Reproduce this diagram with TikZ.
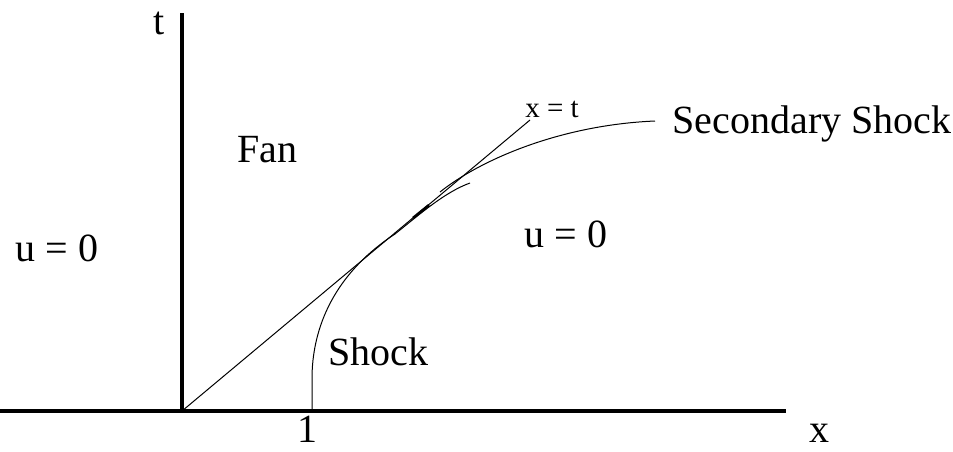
\documentclass[tikz,border=0pt]{standalone}
\usepackage{fontspec}
\setmainfont{Liberation Serif}
\begin{document}
\begin{tikzpicture}[x=1pt,y=-1pt,
  lbl/.style={inner sep=0pt,anchor=base,font=\fontsize{40}{46}\selectfont},
  smalllbl/.style={inner sep=0pt,anchor=base,font=\fontsize{29}{32}\selectfont},
  axis/.style={line width=3.2pt},
  thin/.style={line width=1pt}]
\useasboundingbox (0,0) rectangle (953,451);
% axes
\coordinate (O) at (182,411);
\coordinate (xend) at (786,411);
\coordinate (xstart) at (0,411);
\coordinate (ttop) at (182,13);
\draw[axis] (xstart) -- (xend);
\draw[axis] (O) -- (ttop);
% line x = t
\coordinate (xtend) at (530,120);
\draw[thin] (O) -- (xtend);
% shock
\coordinate (s0) at (312,411);
\coordinate (s1) at (312,376);
\coordinate (s2) at (395,234);
\coordinate (s3) at (470,183);
\draw[thin] (s0) -- (s1) .. controls (313,320) and (340,270) .. (s2)
  .. controls (420,214) and (445,192) .. (s3);
% secondary shock
\coordinate (ss0) at (440,192);
\coordinate (ss1) at (655,121);
\draw[thin] (ss0) .. controls (480,160) and (560,125) .. (ss1);
% small mark
\coordinate (m0) at (413,218);
\coordinate (m1) at (429,205);
\draw[line width=2.6pt] (m0) -- (m1);
% labels
\node[lbl] (t) at (159,34) {t};
\node[lbl] (x) at (819,442) {x};
\node[lbl] (one) at (307,442) {1};
\node[lbl] (fan) at (267,162) {Fan};
\node[lbl] (u1) at (57,261) {u = 0};
\node[lbl] (u2) at (566,247) {u = 0};
\node[lbl] (shock) at (378,365) {Shock};
\node[lbl] (sec) at (812,133) {Secondary Shock};
\node[smalllbl] (xt) at (552,117) {x = t};
\end{tikzpicture}
\end{document}
